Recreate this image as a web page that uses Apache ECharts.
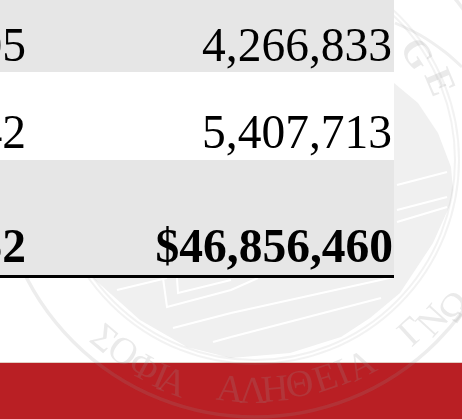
<!DOCTYPE html>
<html>
<head>
<meta charset="utf-8">
<style>
  html, body { margin: 0; padding: 0; background: #fff; }
  #main { width: 462px; height: 419px; }
</style>
<script src="https://cdn.jsdelivr.net/npm/echarts@6/dist/echarts.min.js"></script>
</head>
<body>
<div id="main"></div>
<script>
// table rows, the crop cuts the left column so only its last digits show
const leftColumn = ['05', '42', '', '52'];
const rightColumn = ['4,266,833', '5,407,713', '', '$46,856,460'];
const boldRow = [false, false, false, true];
const rowBands = ['#e6e6e6', '#ffffff', '#e6e6e6', '#e6e6e6'];

// college seal lettering behind the table
const sealBottomLetters = 'ΣΟΦΙΑΑΛΗΘΕΙΑΓΝΩ'.split('');
const sealTopLetters = 'GE'.split('');

const FONT = '"Liberation Serif", "Times New Roman", serif';
const tableRight = 394;
const rowEdges = [0, 72, 160, 205, 277];
const textTops = [25, 112, 0, 226];
const textRights = [392, 392, 0, 393];
const sealCx = 255, sealCy = 160;
const mark = 'rgba(150,150,150,0.2)';

const bottomSpots = [[103, 340], [122, 353], [143, 369], [160, 378], [172, 384],
  [230, 391], [253, 393], [275, 391], [300, 386], [326, 380], [343, 374], [362, 367],
  [413, 333], [434, 322], [456, 308]];
const topSpots = [[415, 55], [438, 83]];

const shield = [[394, 83], [418, 103], [438, 133], [451, 167], [453, 190], [450, 205], [433, 243],
  [400, 293], [370, 318], [341, 337], [290, 353], [231, 358], [187, 347], [140, 320], [93, 278], [0, 200], [0, 83]];
const whiteLines = [
  [[397, 185], [447, 172]], [[397, 210], [447, 197]], [[397, 222], [447, 207]],
  [[231, 337], [381, 298]], [[231, 313], [394, 277]], [[213, 342], [231, 337]], [[173, 328], [231, 313]],
  [[117, 290], [167, 278]], [[163, 278], [167, 307], [231, 290], [258, 278]], [[177, 278], [178, 293], [231, 280]]
];
const topArc = [[395, 23], [420, 35], [445, 52], [462, 67]];

let elements = [];

// seal
elements.push({ type: 'polygon', z: 1, shape: { points: shield }, style: { fill: '#f0f0f0' } });
whiteLines.forEach(function (pts) {
  elements.push({ type: 'polyline', z: 2, shape: { points: pts }, style: { stroke: '#fff', lineWidth: 2, fill: null } });
});
elements.push({ type: 'polyline', z: 2, shape: { points: topArc, smooth: 0.3 }, style: { stroke: '#efefef', lineWidth: 3, fill: null } });

// red footer goes under the see-through seal rings and letters
elements.push({ type: 'rect', z: 3, shape: { x: 0, y: 363, width: 462, height: 56 }, style: { fill: '#b91f24' } });
elements.push({ type: 'rect', z: 3, shape: { x: 0, y: 362, width: 462, height: 1 }, style: { fill: '#e3cfc4' } });
elements.push({ type: 'circle', z: 4, shape: { cx: sealCx, cy: sealCy, r: 257 }, style: { fill: null, stroke: 'rgba(150,150,150,0.17)', lineWidth: 3.5 } });
elements.push({ type: 'circle', z: 4, shape: { cx: sealCx, cy: sealCy, r: 200 }, style: { fill: null, stroke: 'rgba(150,150,150,0.12)', lineWidth: 2 } });
elements.push({ type: 'circle', z: 4, shape: { cx: sealCx, cy: sealCy, r: 204 }, style: { fill: null, stroke: 'rgba(150,150,150,0.12)', lineWidth: 2 } });

sealBottomLetters.forEach(function (ch, i) {
  let p = bottomSpots[i];
  elements.push({
    type: 'text', z: 4, x: p[0], y: p[1],
    rotation: Math.atan2(p[0] - sealCx, p[1] - sealCy),
    style: { text: ch, font: '38px ' + FONT, fill: mark, align: 'center', verticalAlign: 'middle' }
  });
});
sealTopLetters.forEach(function (ch, i) {
  let p = topSpots[i];
  elements.push({
    type: 'text', z: 4, x: p[0], y: p[1],
    rotation: -Math.atan2(p[0] - sealCx, sealCy - p[1]),
    style: { text: ch, font: 'bold 38px ' + FONT, fill: mark, align: 'center', verticalAlign: 'middle' }
  });
});

// table
rowBands.forEach(function (color, i) {
  elements.push({
    type: 'rect', z: 5,
    shape: { x: 0, y: rowEdges[i], width: tableRight, height: rowEdges[i + 1] - rowEdges[i] },
    style: { fill: color }
  });
});
rightColumn.forEach(function (val, i) {
  if (!val) return;
  let font = (boldRow[i] ? 'bold ' : '') + '47.5px ' + FONT;
  elements.push({ type: 'text', z: 6, x: 26, y: textTops[i], style: { text: leftColumn[i], font: font, fill: '#000', align: 'right', verticalAlign: 'top' } });
  elements.push({ type: 'text', z: 6, x: textRights[i], y: textTops[i], style: { text: val, font: font, fill: '#000', align: 'right', verticalAlign: 'top' } });
});
elements.push({ type: 'rect', z: 7, shape: { x: 0, y: 275, width: tableRight, height: 3 }, style: { fill: '#000' } });

const myChart = echarts.init(document.getElementById('main'), null, { renderer: 'canvas' });
myChart.setOption({
  animation: false,
  backgroundColor: '#fff',
  graphic: { elements: elements }
});
</script>
</body>
</html>
